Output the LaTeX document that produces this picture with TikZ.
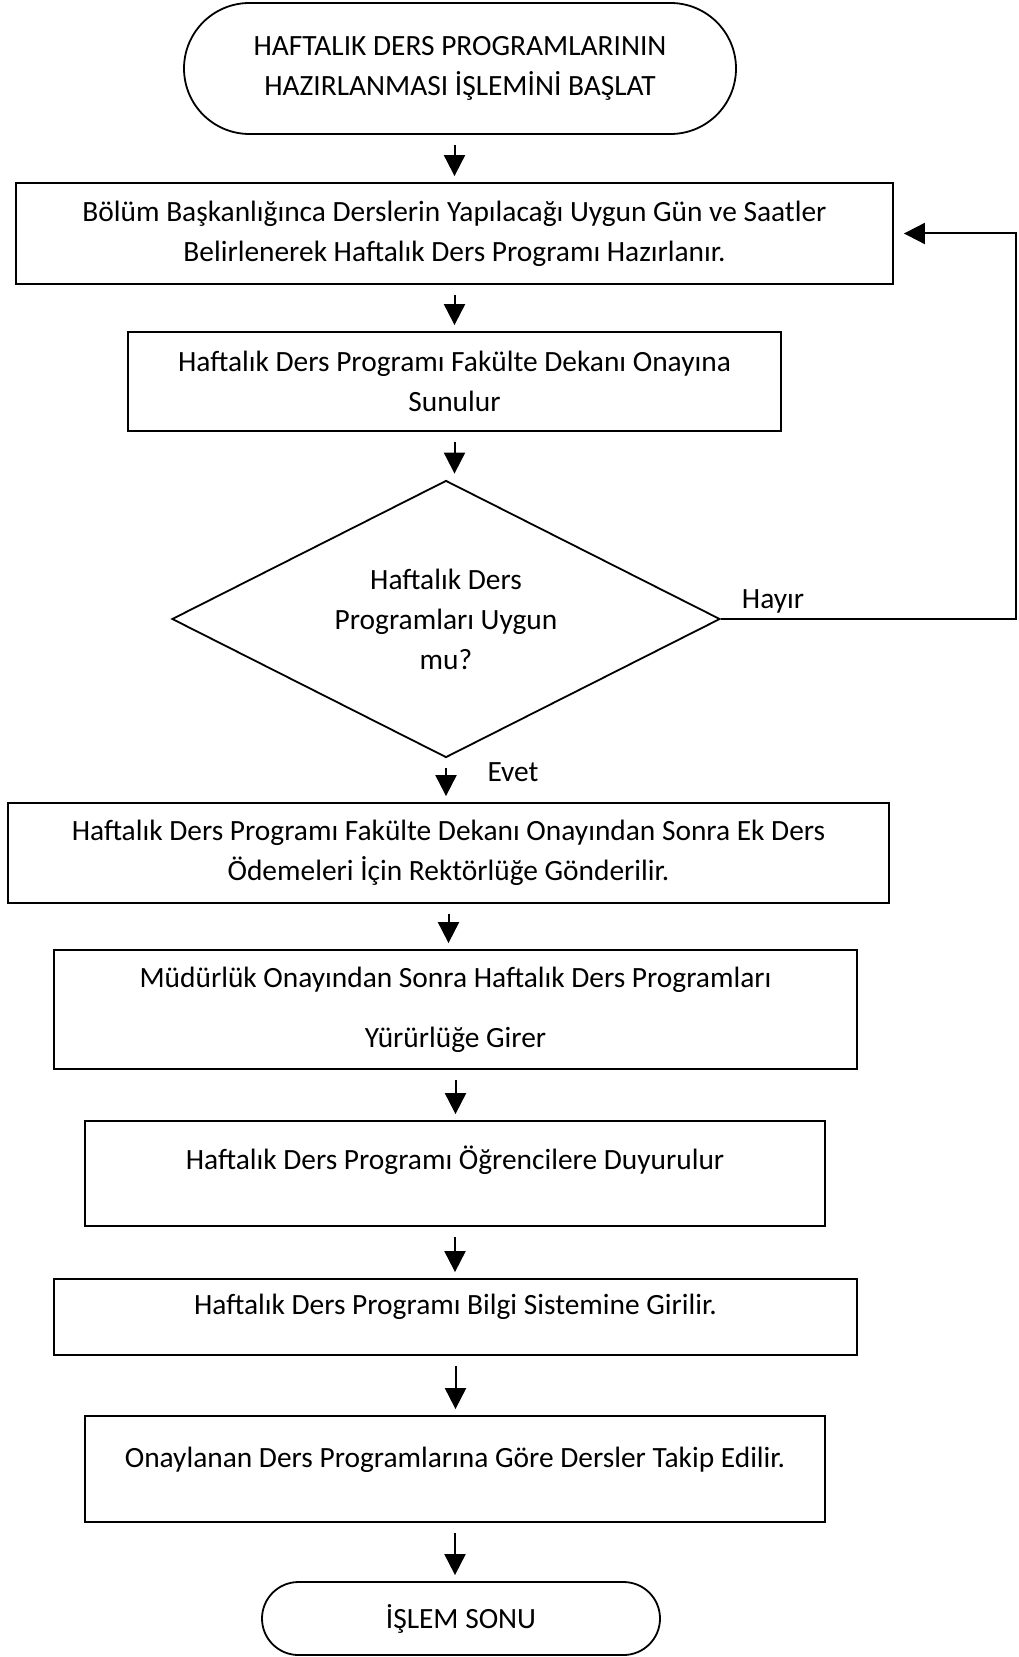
\documentclass[tikz,border=0pt]{standalone}
\usepackage{fontspec}
\setmainfont{Carlito}
\usetikzlibrary{shapes.geometric,shapes.misc,arrows.meta}

\tikzset{
  txt/.style={font=\fontsize{14.7}{20}\selectfont},
  box/.style={txt,draw,line width=0.9pt,align=center,inner sep=2pt},
  term/.style={box,rounded rectangle},
  decide/.style={box,diamond,aspect=1.98,inner sep=0pt},
  arr/.style={line width=1pt,-{Triangle[length=10.5pt,width=10.5pt]},shorten <=5pt,shorten >=3pt},
}

\begin{document}
\begin{tikzpicture}[x=0.5pt,y=-0.5pt]
  \useasboundingbox (0,0) rectangle (1018,1657);

  % Start
  \node[term,minimum width=280pt,minimum height=65.5pt] (start) at (460,68.5)
    {HAFTALIK DERS PROGRAMLARININ\\HAZIRLANMASI İŞLEMİNİ BAŞLAT};

  % Steps
  \node[box,minimum width=438.5pt,minimum height=50.5pt] (hazirla) at (454.5,233.5)
    {Bölüm Başkanlığınca Derslerin Yapılacağı Uygun Gün ve Saatler\\Belirlenerek Haftalık Ders Programı Hazırlanır.};
  \node[box,minimum width=326.5pt,minimum height=49.5pt] (sun) at (454.5,381.5)
    {Haftalık Ders Programı Fakülte Dekanı Onayına\\Sunulur};

  % Decision
  \node[decide,minimum width=274pt,minimum height=138.5pt] (uygun) at (446,619)
    {Haftalık Ders\\Programları Uygun\\mu?};

  \node[box,minimum width=440.5pt,minimum height=50pt] (gonder) at (448.5,853)
    {Haftalık Ders Programı Fakülte Dekanı Onayından Sonra Ek Ders\\Ödemeleri İçin Rektörlüğe Gönderilir.};
  \node[box,minimum width=401.5pt,minimum height=59.5pt] (yururluk) at (455.5,1009.5)
    {Müdürlük Onayından Sonra Haftalık Ders Programları\\[10pt]Yürürlüğe Girer};
  \node[box,minimum width=370pt,minimum height=52.5pt,text depth=15.5pt] (duyur) at (455,1173.5)
    {Haftalık Ders Programı Öğrencilere Duyurulur};
  \node[box,minimum width=401.5pt,minimum height=38pt,text depth=12.6pt] (bilgi) at (455.5,1317)
    {Haftalık Ders Programı Bilgi Sistemine Girilir.};
  \node[box,minimum width=370pt,minimum height=53pt,text depth=11.6pt] (takip) at (455,1469)
    {Onaylanan Ders Programlarına Göre Dersler Takip Edilir.};

  % End
  \node[term,minimum width=203pt,minimum height=36.5pt] (son) at (461,1618.5) {İŞLEM SONU};

  % Arrows
  \draw[arr] (hazirla.north |- start.south) -- (hazirla.north);
  \draw[arr] (hazirla.south) -- (hazirla.south |- sun.north);
  \draw[arr] (sun.south) -- (sun.south |- uygun.north);
  \draw[arr] (uygun.south) -- (uygun.south |- gonder.north);
  \draw[arr] (gonder.south) -- (gonder.south |- yururluk.north);
  \draw[arr] (yururluk.south) -- (yururluk.south |- duyur.north);
  \draw[arr] (duyur.south) -- (duyur.south |- bilgi.north);
  \draw[arr] (bilgi.south) -- (bilgi.south |- takip.north);
  \draw[arr] (takip.south) -- (takip.south |- son.north);

  % Loop back (Hayir)
  \coordinate (donus) at (1016,619);
  \draw[arr,shorten <=0pt,shorten >=5pt] (uygun.east) -- (donus) |- (hazirla.east);
  \node[txt] (hayir) at (773,601) {Hayır};
  \node[txt] (evet) at (513,772) {Evet};
\end{tikzpicture}
\end{document}
